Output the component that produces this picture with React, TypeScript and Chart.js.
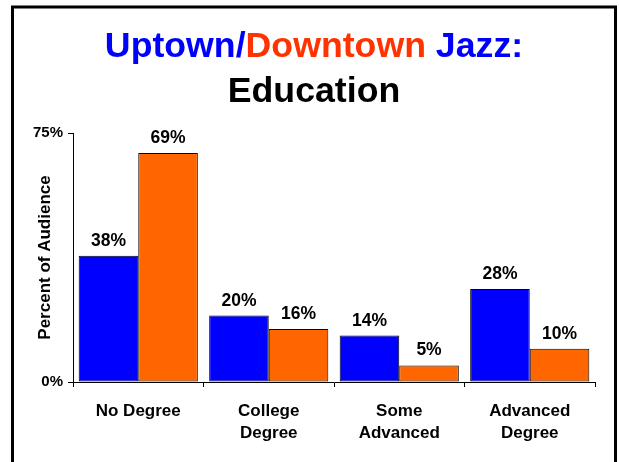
import { useEffect, useRef } from "react";
import { Chart, registerables } from "chart.js";

Chart.register(...registerables);

const categories: (string | string[])[] = [
  "No Degree",
  ["College", "Degree"],
  ["Some", "Advanced"],
  ["Advanced", "Degree"],
];
const uptownValues = [38, 20, 14, 28];
const downtownValues = [69, 16, 5, 10];
const yMin = 0;
const yMax = 75;
const yStep = 75;
const yAxisTitle = "Percent of Audience";
const titleLine1 = [
  { text: "Uptown/", color: "#0000FF" },
  { text: "Downtown", color: "#FF3300" },
  { text: " Jazz:", color: "#0000FF" },
];
const titleLine2 = "Education";

const FONT = '"Liberation Sans", Arial, Helvetica, sans-serif';

const framePlugin = {
  id: "frameAndTitle",
  beforeDraw(chart: any) {
    const ctx = chart.ctx;
    ctx.save();
    ctx.fillStyle = "#FFFFFF";
    ctx.fillRect(0, 0, chart.width, chart.height);
    ctx.restore();
  },
  afterDraw(chart: any) {
    const ctx = chart.ctx;
    ctx.save();
    ctx.strokeStyle = "#000000";
    ctx.lineWidth = 3;
    ctx.strokeRect(12.5, 7, 603, 520);

    const cx = 314;
    ctx.font = `bold 35.7px ${FONT}`;
    ctx.textBaseline = "alphabetic";
    ctx.textAlign = "left";
    const total = titleLine1.reduce((s, p) => s + ctx.measureText(p.text).width, 0);
    let x = cx - total / 2;
    for (const p of titleLine1) {
      ctx.fillStyle = p.color;
      ctx.fillText(p.text, x, 57);
      x += ctx.measureText(p.text).width;
    }
    ctx.fillStyle = "#000000";
    ctx.textAlign = "center";
    ctx.fillText(titleLine2, cx, 102);
    ctx.restore();
  },
};

const labelPlugin = {
  id: "valueLabels",
  afterDatasetsDraw(chart: any) {
    const ctx = chart.ctx;
    ctx.save();
    ctx.font = `bold 17.5px ${FONT}`;
    ctx.fillStyle = "#000000";
    ctx.textAlign = "center";
    ctx.textBaseline = "alphabetic";
    chart.data.datasets.forEach((ds: any, i: number) => {
      const meta = chart.getDatasetMeta(i);
      meta.data.forEach((el: any, j: number) => {
        ctx.fillText(ds.data[j] + "%", el.x, el.y - 10);
      });
    });
    ctx.restore();
  },
};

export default function App() {
  const ref = useRef<HTMLCanvasElement>(null);
  useEffect(() => {
    if (!ref.current) return;
    const chart = new Chart(ref.current, {
      type: "bar",
      data: {
        labels: categories,
        datasets: [
          {
            label: "Uptown",
            data: uptownValues,
            backgroundColor: "#0000FF",
            borderColor: "#000000",
            borderWidth: 1,
            borderSkipped: false,
            categoryPercentage: 0.913,
            barPercentage: 1,
          },
          {
            label: "Downtown",
            data: downtownValues,
            backgroundColor: "#FF6600",
            borderColor: "#000000",
            borderWidth: 1,
            borderSkipped: false,
            categoryPercentage: 0.913,
            barPercentage: 1,
          },
        ],
      },
      options: {
        responsive: false,
        animation: false,
        devicePixelRatio: 1,
        layout: { padding: { top: 133, left: 0, right: 24, bottom: 0 } },
        plugins: {
          legend: { display: false },
          tooltip: { enabled: false },
          title: { display: false },
        },
        scales: {
          x: {
            afterFit(scale: any) {
              scale.height = 80;
            },
            grid: {
              offset: true,
              drawOnChartArea: false,
              drawTicks: true,
              tickLength: 5,
              color: "#000000",
            },
            border: { display: true, color: "#000000", width: 1 },
            ticks: {
              color: "#000000",
              padding: 13,
              maxRotation: 0,
              autoSkip: false,
              font: { family: FONT, size: 17, weight: "bold", lineHeight: 1.3 },
            },
          },
          y: {
            min: yMin,
            max: yMax,
            afterFit(scale: any) {
              scale.width = 73;
            },
            grid: {
              drawOnChartArea: false,
              drawTicks: true,
              tickLength: 5,
              color: "#000000",
            },
            border: { display: true, color: "#000000", width: 1 },
            ticks: {
              stepSize: yStep,
              color: "#000000",
              padding: 5,
              font: { family: FONT, size: 15, weight: "bold" },
              callback: (v: any) => v + "%",
            },
            title: {
              display: true,
              text: yAxisTitle,
              color: "#000000",
              padding: { top: 35, bottom: 0 },
              font: { family: FONT, size: 17, weight: "bold", lineHeight: 1.2 },
            },
          },
        },
      },
      plugins: [framePlugin, labelPlugin],
    });
    return () => chart.destroy();
  }, []);
  return (
    <div style={{ position: "absolute", left: 0, top: 0, width: 619, height: 462 }}>
      <canvas ref={ref} width={619} height={462} style={{ display: "block" }} />
    </div>
  );
}
